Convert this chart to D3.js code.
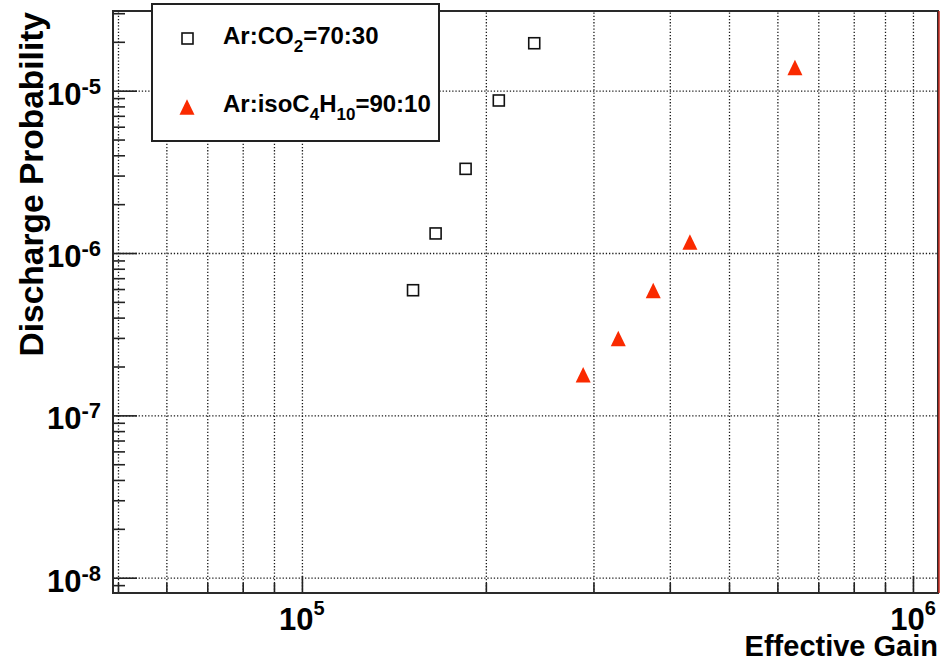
<!DOCTYPE html>
<html>
<head>
<meta charset="utf-8">
<script src="https://cdn.jsdelivr.net/npm/d3@7"></script>
<style>
body { margin: 0; background: #fff; }
svg text { font-family: 'Liberation Sans', Arial, Helvetica, sans-serif; font-weight: bold; fill: #000; }
</style>
</head>
<body>
<svg id="chart" width="949" height="662"></svg>
<script>
// Ar:CO2 = 70:30
const co2Gain = [1.52e5, 1.655e5, 1.853e5, 2.10e5, 2.40e5]
const co2Prob = [5.9e-7, 1.32e-6, 3.3e-6, 8.7e-6, 1.96e-5]

// Ar:isoC4H10 = 90:10
const isoGain = [2.886e5, 3.294e5, 3.758e5, 4.315e5, 6.41e5]
const isoProb = [1.78e-7, 2.97e-7, 5.87e-7, 1.17e-6, 1.39e-5]

const xMajor = [1e5, 1e6]
const xMajorLabels = [['10', '5'], ['10', '6']]
const yMajor = [1e-8, 1e-7, 1e-6, 1e-5]
const yMajorLabels = [['10', '-8'], ['10', '-7'], ['10', '-6'], ['10', '-5']]

const svg = d3.select('#chart')

const frame = { left: 113, right: 938, top: 11, bottom: 593 }

const x = d3.scaleLog()
  .domain([4.907e4, 1.099e6])
  .range([frame.left, frame.right])
const y = d3.scaleLog()
  .domain([8.05e-9, 3.096e-5])
  .range([frame.bottom, frame.top])

// minor ticks at 2..9 times each decade, kept inside the domain
function minors (scale) {
  const [a, b] = scale.domain()
  const out = []
  for (let e = Math.floor(Math.log10(a)); e <= Math.ceil(Math.log10(b)); e++) {
    for (let m = 2; m <= 9; m++) {
      const v = m * Math.pow(10, e)
      if (v >= a && v <= b) out.push(v)
    }
  }
  return out
}
const xMinor = minors(x)
const yMinor = minors(y)

const plotH = frame.bottom - frame.top
const plotW = frame.right - frame.left

// grid: vertical at every x tick, horizontal at the decades only
const gridX = svg.append('g')
  .attr('transform', 'translate(0,' + frame.bottom + ')')
  .call(d3.axisBottom(x).tickValues(xMajor.concat(xMinor)).tickSize(-plotH).tickFormat(''))
const gridY = svg.append('g')
  .attr('transform', 'translate(' + frame.left + ',0)')
  .call(d3.axisLeft(y).tickValues(yMajor).tickSize(-plotW).tickFormat(''))
;[gridX, gridY].forEach(g => {
  g.select('.domain').remove()
  g.selectAll('line')
    .attr('stroke', '#1a1a1a')
    .attr('stroke-width', 1.3)
    .attr('stroke-dasharray', '1.3,1.9')
})

// ticks
function ticks (axis, transform, values, size) {
  const g = svg.append('g')
    .attr('transform', transform)
    .call(axis.tickValues(values).tickSize(size).tickFormat(''))
  g.select('.domain').remove()
  g.selectAll('line').attr('stroke', '#222').attr('stroke-width', 1.6)
}
ticks(d3.axisBottom(x), 'translate(0,' + frame.bottom + ')', xMajor, -17)
ticks(d3.axisBottom(x), 'translate(0,' + frame.bottom + ')', xMinor, -10)
ticks(d3.axisLeft(y), 'translate(' + frame.left + ',0)', yMajor, -24)
ticks(d3.axisLeft(y), 'translate(' + frame.left + ',0)', yMinor, -12)

// frame
svg.append('rect')
  .attr('x', frame.left)
  .attr('y', frame.top)
  .attr('width', plotW)
  .attr('height', plotH)
  .attr('fill', 'none')
  .attr('stroke', '#2a2a2a')
  .attr('stroke-width', 2)
svg.append('line')
  .attr('x1', frame.right + 1).attr('x2', frame.right + 1)
  .attr('y1', frame.top).attr('y2', frame.bottom)
  .attr('stroke', '#c8281e')
  .attr('stroke-width', 1.5)

// tick labels
xMajor.forEach((v, i) => {
  const t = svg.append('text')
    .attr('x', x(v))
    .attr('y', 630)
    .attr('text-anchor', 'middle')
  t.append('tspan').attr('font-size', 31).text(xMajorLabels[i][0])
  t.append('tspan').attr('font-size', 20).attr('dy', -15).text(xMajorLabels[i][1])
})
yMajor.forEach((v, i) => {
  const t = svg.append('text')
    .attr('x', 101)
    .attr('y', y(v) + 14)
    .attr('text-anchor', 'end')
  t.append('tspan').attr('font-size', 31).text(yMajorLabels[i][0])
  t.append('tspan').attr('font-size', 22).attr('dy', -11).text(yMajorLabels[i][1])
})

// axis titles
svg.append('text')
  .attr('x', frame.right)
  .attr('y', 656)
  .attr('text-anchor', 'end')
  .attr('font-size', 29)
  .text('Effective Gain')
svg.append('text')
  .attr('transform', 'translate(43,' + (frame.top + 1) + ') rotate(-90)')
  .attr('text-anchor', 'end')
  .attr('font-size', 33.5)
  .text('Discharge Probability')

// markers
const triangle = (cx, cy) => {
  const w = 15, h = 15.5
  return 'M' + cx + ',' + (cy - h / 2) + 'L' + (cx + w / 2) + ',' + (cy + h / 2) + 'L' + (cx - w / 2) + ',' + (cy + h / 2) + 'Z'
}
const red = '#fa2a00'

svg.append('g')
  .selectAll('rect')
  .data(co2Gain.map((g, i) => [g, co2Prob[i]]))
  .enter()
  .append('rect')
  .attr('x', d => x(d[0]) - 5.5)
  .attr('y', d => y(d[1]) - 5.5)
  .attr('width', 11)
  .attr('height', 11)
  .attr('fill', 'none')
  .attr('stroke', '#111')
  .attr('stroke-width', 1.6)

svg.append('g')
  .selectAll('path')
  .data(isoGain.map((g, i) => [g, isoProb[i]]))
  .enter()
  .append('path')
  .attr('d', d => triangle(x(d[0]), y(d[1])))
  .attr('fill', red)

// legend
const legend = svg.append('g')
legend.append('rect')
  .attr('x', 152).attr('y', 4)
  .attr('width', 287).attr('height', 137)
  .attr('fill', '#fff')
  .attr('stroke', '#222')
  .attr('stroke-width', 2)
legend.append('rect')
  .attr('x', 182).attr('y', 33)
  .attr('width', 11).attr('height', 11)
  .attr('fill', 'none')
  .attr('stroke', '#111')
  .attr('stroke-width', 1.6)
legend.append('path')
  .attr('d', triangle(187, 107))
  .attr('fill', red)

const l1 = legend.append('text').attr('x', 223).attr('y', 44).attr('font-size', 24)
l1.append('tspan').text('Ar:CO')
l1.append('tspan').attr('font-size', 17).attr('dy', 8).text('2')
l1.append('tspan').attr('dy', -8).text('=70:30')

const l2 = legend.append('text').attr('x', 223).attr('y', 112).attr('font-size', 24)
l2.append('tspan').text('Ar:isoC')
l2.append('tspan').attr('font-size', 17).attr('dy', 8).text('4')
l2.append('tspan').attr('dy', -8).text('H')
l2.append('tspan').attr('font-size', 17).attr('dy', 8).text('10')
l2.append('tspan').attr('dy', -8).text('=90:10')
</script>
</body>
</html>
